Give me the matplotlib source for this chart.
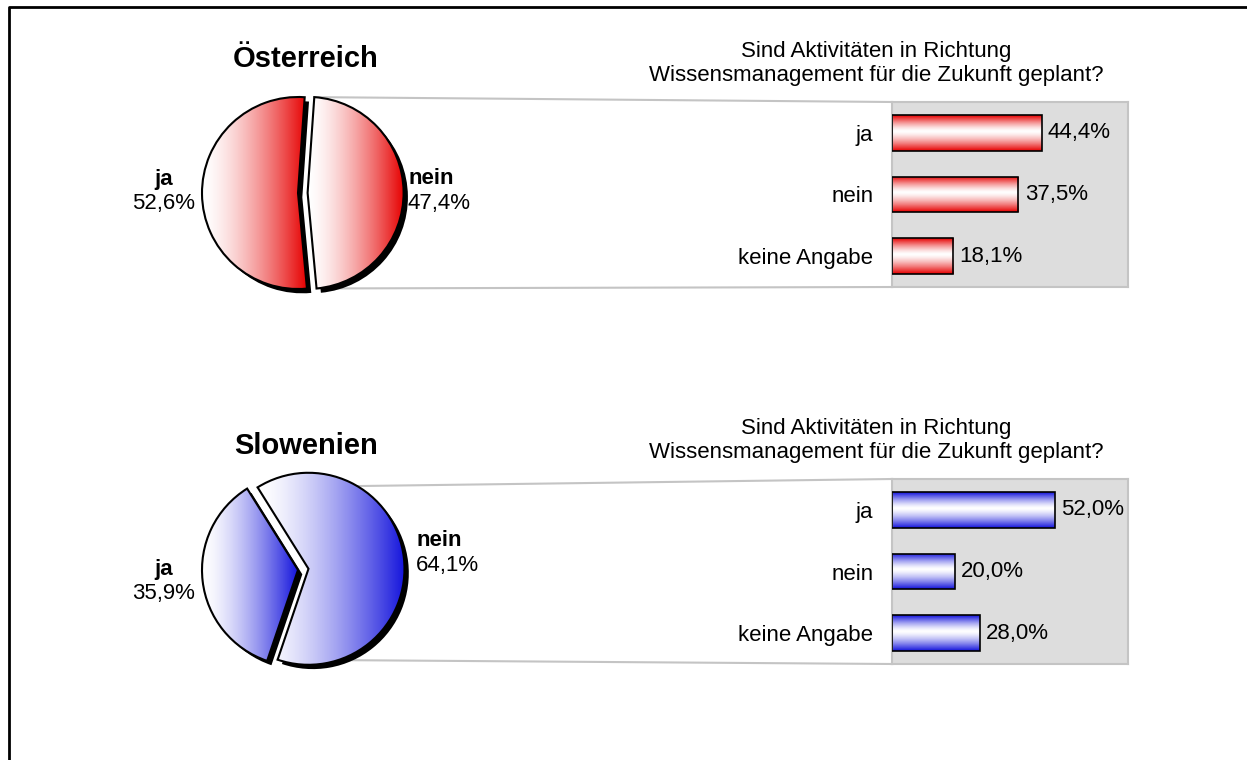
import numpy as np
import matplotlib
matplotlib.use('Agg')
import matplotlib.pyplot as plt
from matplotlib.lines import Line2D
from matplotlib.colors import to_rgb

plt.rcParams['font.family'] = ['Liberation Sans', 'DejaVu Sans']

W, H = 1247, 760

# ---------------- data ----------------
countries = ['Österreich', 'Slowenien']
pie_labels = ['nein', 'ja']              # drawn clockwise from start angle
pie_austria = [47.4, 52.6]
pie_slovenia = [64.1, 35.9]
bar_categories = ['ja', 'nein', 'keine Angabe']
bar_austria = [44.4, 37.5, 18.1]
bar_slovenia = [52.0, 20.0, 28.0]
question = ['Sind Aktivitäten in Richtung',
            'Wissensmanagement für die Zukunft geplant?']

# ---------------- layout / style ----------------
panels = [
    dict(name=countries[0], pie=pie_austria, bars=bar_austria, color='#E60000',
         start=86, explode=0.10, cy=193, xmax=70, title_y=67,
         ja_y=(179, 204), nein_y=(179, 204), nein_x=408),
    dict(name=countries[1], pie=pie_slovenia, bars=bar_slovenia, color='#1414DC',
         start=122, explode=0.11, cy=570, xmax=75.4, title_y=454,
         ja_y=(570, 594), nein_y=(541, 565), nein_x=416),
]
CX = 298
R = 96
FS = 16


def frect(x0, y0, x1, y1):
    return [x0 / W, 1 - y1 / H, (x1 - x0) / W, (y1 - y0) / H]


def fx(x):
    return x / W


def fy(y):
    return 1 - y / H


def fmt(v):
    return f'{v:.1f}'.replace('.', ',') + '%'


fig = plt.figure(figsize=(W / 100, H / 100), dpi=100)
fig.patch.set_facecolor('white')

# outer frame (left and top)
fig.add_artist(Line2D([fx(9), fx(9), fx(W)], [fy(H), fy(7), fy(7)],
                      color='black', lw=2, transform=fig.transFigure))

for p in panels:
    cy = p['cy']
    col = np.array(to_rgb(p['color']))
    white = np.ones(3)

    # ---------- pie ----------
    hw, hh = 135, 115
    pax = fig.add_axes(frect(CX - hw, cy - hh, CX + hw, cy + hh))
    explode = [p['explode'], 0]
    sh = 0.045
    pax.pie(p['pie'], explode=explode, startangle=p['start'], counterclock=False,
            colors=['black', 'black'], center=(sh, -sh),
            wedgeprops=dict(linewidth=0, zorder=1))
    wedges, _ = pax.pie(p['pie'], explode=explode, startangle=p['start'],
                        counterclock=False, colors=['none', 'none'],
                        wedgeprops=dict(edgecolor='black', linewidth=1.5, zorder=3))
    t = np.linspace(0, 1, 256)
    frac = t ** 1.5
    grad = ((1 - frac)[:, None] * white + frac[:, None] * col)[None, :, :]
    for w in wedges:
        ext = w.get_path().get_extents()
        im = pax.imshow(grad, extent=[ext.x0, ext.x1, ext.y0, ext.y1],
                        aspect='auto', interpolation='bilinear', zorder=2)
        im.set_clip_path(w)
    pax.set_xlim(-hw / R, hw / R)
    pax.set_ylim(-hh / R, hh / R)
    pax.set_aspect('auto')
    pax.axis('off')

    # ---------- bar panel ----------
    bax = fig.add_axes(frect(892, cy - 91, 1128, cy + 94))
    bax.set_facecolor('#DDDDDD')
    ypos = np.arange(len(bar_categories))
    bh = 0.58
    bars = bax.barh(ypos, p['bars'], height=bh, color='none', edgecolor='black',
                    linewidth=1.2, zorder=3)
    s = np.linspace(0, 1, 64)
    mid = 0.45
    prof = np.where(s < mid, (mid - s) / mid, (s - mid) / (1 - mid)) ** 1.4
    vgrad = ((1 - prof)[:, None] * white + prof[:, None] * col)[:, None, :]
    for i, (v, b) in enumerate(zip(p['bars'], bars)):
        im = bax.imshow(vgrad, extent=[0, v, i + bh / 2, i - bh / 2],
                        aspect='auto', interpolation='bilinear', zorder=2)
        im.set_clip_path(b)
        bax.annotate(fmt(v), xy=(v, i), xytext=(4.5, 0), textcoords='offset points',
                     ha='left', va='center', fontsize=FS)
    bax.set_xlim(0, p['xmax'])
    bax.set_ylim(len(bar_categories) - 0.5, -0.5)
    bax.set_aspect('auto')
    bax.set_xticks([])
    bax.set_yticks(ypos)
    bax.set_yticklabels(bar_categories, fontsize=FS)
    bax.tick_params(axis='y', length=0, pad=13.5)
    for sp in bax.spines.values():
        sp.set_color('#C4C4C4')
        sp.set_linewidth(1.5)

    # ---------- connector lines ----------
    nw = wedges[0]
    to_fig = pax.transData + fig.transFigure.inverted()
    bto_fig = bax.transAxes + fig.transFigure.inverted()
    for ang, corner in [(nw.theta2, (0, 1)), (nw.theta1, (0, 0))]:
        a = np.deg2rad(ang)
        px = nw.center[0] + nw.r * np.cos(a)
        py = nw.center[1] + nw.r * np.sin(a)
        p0 = to_fig.transform((px, py))
        p1 = bto_fig.transform(corner)
        fig.add_artist(Line2D([p0[0], p1[0]], [p0[1], p1[1]], color='#C4C4C4',
                              lw=1.5, transform=fig.transFigure, zorder=0))

    # ---------- texts ----------
    fig.text(fx(306), fy(p['title_y']), p['name'], fontsize=21, fontweight='bold',
             ha='center', va='baseline')
    fig.text(fx(876), fy(cy - 136), question[0], fontsize=FS, ha='center', va='baseline')
    fig.text(fx(876), fy(cy - 112), question[1], fontsize=FS, ha='center', va='baseline')

    ja_val = p['pie'][1]
    nein_val = p['pie'][0]
    fig.text(fx(164), fy(p['ja_y'][0]), pie_labels[1], fontsize=FS, fontweight='bold',
             ha='center', va='center')
    fig.text(fx(164), fy(p['ja_y'][1]), fmt(ja_val), fontsize=FS, ha='center', va='center')
    fig.text(fx(p['nein_x']), fy(p['nein_y'][0]), pie_labels[0], fontsize=FS,
             fontweight='bold', ha='left', va='center')
    fig.text(fx(p['nein_x']), fy(p['nein_y'][1]), fmt(nein_val), fontsize=FS,
             ha='left', va='center')

fig.savefig('out.png', dpi=100, facecolor='white')
